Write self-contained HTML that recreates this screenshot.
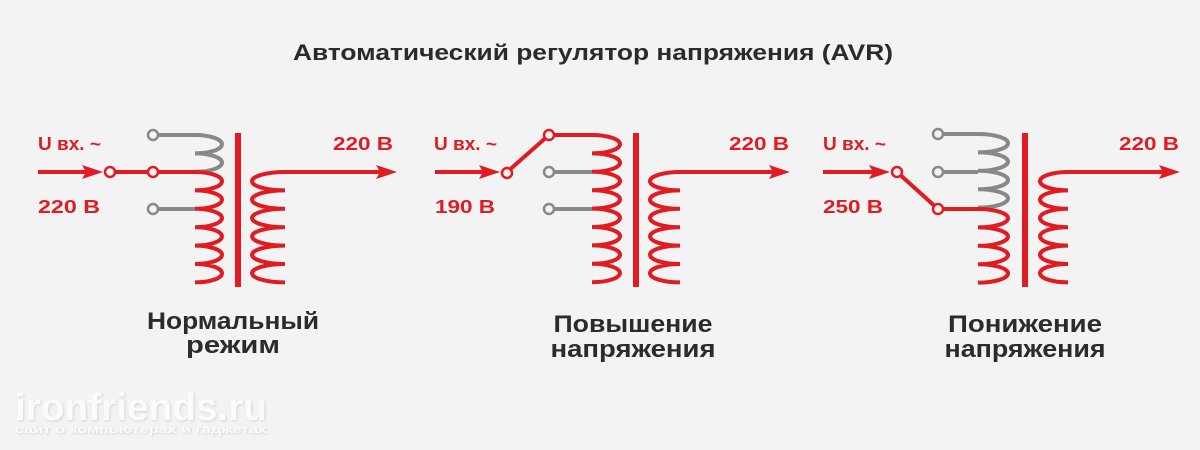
<!DOCTYPE html>
<html><head><meta charset="utf-8"><style>
html,body{margin:0;padding:0;background:#f3f3f3;}
svg{display:block}
text{font-family:"Liberation Sans",sans-serif;font-weight:bold}
</style></head><body>
<svg width="1200" height="450" viewBox="0 0 1200 450" xmlns="http://www.w3.org/2000/svg">
<rect width="1200" height="450" fill="#f3f3f3"/>
<text x="593" y="60" font-size="22" fill="#2b2b2b" text-anchor="middle" textLength="600" lengthAdjust="spacingAndGlyphs">Автоматический регулятор напряжения (AVR)</text>

<g fill="none" stroke-width="4" stroke-linecap="butt">
<!-- Diagram 1 -->
<path d="M153,135 H195 a27,9.2 0 0 1 0,18.4 a27,9.2 0 0 1 0,18.4" stroke="#888"/>
<path d="M153,209 H195" stroke="#888"/>
<path d="M38,172 H90 M110,172 H195 a27,9.2 0 0 1 0,18.4 a27,9.2 0 0 1 0,18.4 a27,9.2 0 0 1 0,18.4 a27,9.2 0 0 1 0,18.4 a27,9.2 0 0 1 0,18.4 a27,9.2 0 0 1 0,18.4" stroke="#e01b22"/>
<path d="M380,172 H285 a33,9.2 0 0 0 0,18.4 a33,9.2 0 0 0 0,18.4 a33,9.2 0 0 0 0,18.4 a33,9.2 0 0 0 0,18.4 a33,9.2 0 0 0 0,18.4 a33,9.2 0 0 0 0,18.4" stroke="#e01b22"/>
<path d="M238,133 V287" stroke="#e01b22" stroke-width="6"/>

<!-- Diagram 2 -->
<path d="M549,172 H592 M549,209 H592" stroke="#888"/>
<path d="M435,172 H490 M507,172 L549,135 H592 a28,9.2 0 0 1 0,18.4 a28,9.2 0 0 1 0,18.4 a28,9.2 0 0 1 0,18.4 a28,9.2 0 0 1 0,18.4 a28,9.2 0 0 1 0,18.4 a28,9.2 0 0 1 0,18.4 a28,9.2 0 0 1 0,18.4 a28,9.2 0 0 1 0,18.4" stroke="#e01b22"/>
<path d="M775,172 H680 a30,9.2 0 0 0 0,18.4 a30,9.2 0 0 0 0,18.4 a30,9.2 0 0 0 0,18.4 a30,9.2 0 0 0 0,18.4 a30,9.2 0 0 0 0,18.4 a30,9.2 0 0 0 0,18.4" stroke="#e01b22"/>
<path d="M636,133 V287" stroke="#e01b22" stroke-width="6"/>

<!-- Diagram 3 -->
<path d="M938,134 H978 a30,9.2 0 0 1 0,18.4 a30,9.2 0 0 1 0,18.4 a30,9.2 0 0 1 0,18.4 a30,9.2 0 0 1 0,18.4 M938,172 H978" stroke="#888"/>
<path d="M823,172 H880 M897,172 L938,209 H978 a30,9.2 0 0 1 0,18.4 a30,9.2 0 0 1 0,18.4 a30,9.2 0 0 1 0,18.4 a30,9.2 0 0 1 0,18.4" stroke="#e01b22"/>
<path d="M1165,172 H1068 a28,9.2 0 0 0 0,18.4 a28,9.2 0 0 0 0,18.4 a28,9.2 0 0 0 0,18.4 a28,9.2 0 0 0 0,18.4 a28,9.2 0 0 0 0,18.4 a28,9.2 0 0 0 0,18.4" stroke="#e01b22"/>
<path d="M1025,133 V287" stroke="#e01b22" stroke-width="6"/>
</g>

<g fill="#e01b22">
<polygon points="103,172 82,165 86,172 82,179"/>
<polygon points="397,172 376,165 380,172 376,179"/>
<polygon points="500,172 479,165 483,172 479,179"/>
<polygon points="790,172 769,165 773,172 769,179"/>
<polygon points="890,172 869,165 873,172 869,179"/>
<polygon points="1180,172 1159,165 1163,172 1159,179"/>
</g>

<g fill="#f3f3f3" stroke-width="2.5">
<circle cx="153" cy="135" r="5" stroke="#888"/>
<circle cx="153" cy="209" r="5" stroke="#888"/>
<circle cx="110" cy="172" r="5" stroke="#e01b22"/>
<circle cx="153" cy="172" r="5" stroke="#e01b22"/>
<circle cx="549" cy="172" r="5" stroke="#888"/>
<circle cx="549" cy="209" r="5" stroke="#888"/>
<circle cx="507" cy="173" r="5" stroke="#e01b22"/>
<circle cx="549" cy="135" r="5" stroke="#e01b22"/>
<circle cx="938" cy="134" r="5" stroke="#888"/>
<circle cx="938" cy="172" r="5" stroke="#888"/>
<circle cx="897" cy="172" r="5" stroke="#e01b22"/>
<circle cx="938" cy="209" r="5" stroke="#e01b22"/>
</g>

<g fill="#e01b22" font-size="18">
<text x="38" y="150" textLength="63" lengthAdjust="spacingAndGlyphs">U вх. ~</text>
<text x="38" y="213" textLength="62" lengthAdjust="spacingAndGlyphs">220 В</text>
<text x="333" y="150" textLength="60" lengthAdjust="spacingAndGlyphs">220 В</text>
<text x="434" y="150" textLength="63" lengthAdjust="spacingAndGlyphs">U вх. ~</text>
<text x="435" y="213" textLength="60" lengthAdjust="spacingAndGlyphs">190 В</text>
<text x="729" y="150" textLength="60" lengthAdjust="spacingAndGlyphs">220 В</text>
<text x="823" y="150" textLength="63" lengthAdjust="spacingAndGlyphs">U вх. ~</text>
<text x="823" y="213" textLength="60" lengthAdjust="spacingAndGlyphs">250 В</text>
<text x="1119" y="150" textLength="60" lengthAdjust="spacingAndGlyphs">220 В</text>
</g>

<g fill="#2b2b2b" font-size="24" text-anchor="middle">
<text x="233" y="329" textLength="172" lengthAdjust="spacingAndGlyphs">Нормальный</text>
<text x="233" y="353" textLength="94" lengthAdjust="spacingAndGlyphs">режим</text>
<text x="633" y="332" textLength="159" lengthAdjust="spacingAndGlyphs">Повышение</text>
<text x="633" y="357" textLength="165" lengthAdjust="spacingAndGlyphs">напряжения</text>
<text x="1025" y="332" textLength="154" lengthAdjust="spacingAndGlyphs">Понижение</text>
<text x="1025" y="357" textLength="161" lengthAdjust="spacingAndGlyphs">напряжения</text>
</g>

<g fill="#fbfbfb" style="filter:drop-shadow(1px 1px 1px rgba(0,0,0,0.12))">
<text x="15" y="420" font-size="38" textLength="252" lengthAdjust="spacingAndGlyphs">ironfriends.ru</text>
<text x="15" y="433" font-size="11" textLength="252" lengthAdjust="spacingAndGlyphs">сайт о компьютерах и гаджетах</text>
</g>
</svg>
</body></html>
